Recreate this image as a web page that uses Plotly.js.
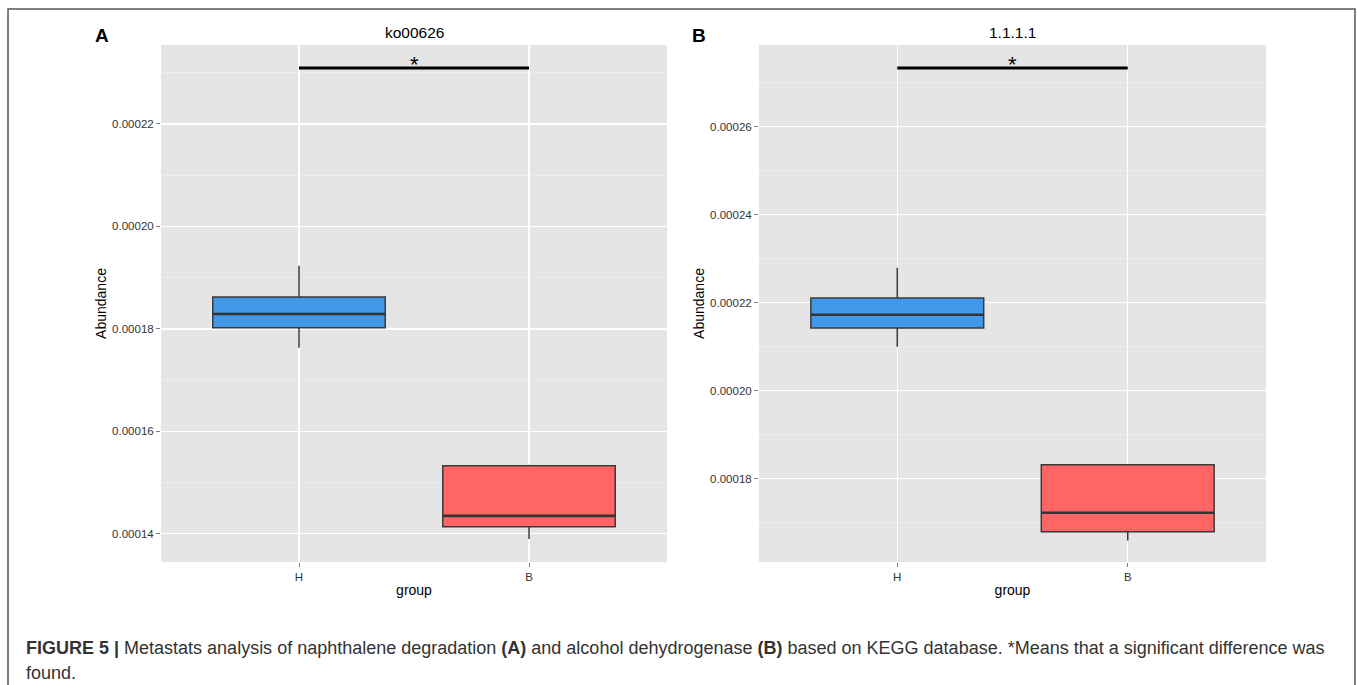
<!DOCTYPE html>
<html>
<head>
<meta charset="utf-8">
<script src="https://cdn.plot.ly/plotly-3.0.1.min.js"></script>
<style>
html,body{margin:0;padding:0;background:#fff;}
#chart{width:1358px;height:685px;}
</style>
</head>
<body>
<div id="chart"></div>
<script>
// ---- data ----
const groups = ['H', 'B'];
const groupColors = ['#4399E9', '#FF6565'];

// Panel A: ko00626
const koLower  = [0.0001763, 0.0001390];
const koQ1     = [0.0001802, 0.0001414];
const koMedian = [0.0001829, 0.0001435];
const koQ3     = [0.0001862, 0.0001533];
const koUpper  = [0.0001923, 0.0001535];
const koSig = 0.0002309;

// Panel B: 1.1.1.1
const ecLower  = [0.0002100, 0.0001660];
const ecQ1     = [0.0002143, 0.0001680];
const ecMedian = [0.0002173, 0.0001723];
const ecQ3     = [0.0002211, 0.0001832];
const ecUpper  = [0.0002280, 0.0001834];
const ecSig = 0.0002734;

const panelTitles = ['ko00626', '1.1.1.1'];
const panelLetters = ['A', 'B'];
const sigLabel = '*';
const caption1 = '<b>FIGURE 5 |</b> Metastats analysis of naphthalene degradation <b>(A)</b> and alcohol dehydrogenase <b>(B)</b> based on KEGG database. *Means that a significant difference was';
const caption2 = 'found.';

// ---- layout helpers ----
const W = 1358, H = 685;
const px = v => v / W;
const py = v => 1 - v / H;
const FONT = 'Liberation Sans, Arial, Helvetica, sans-serif';
const BOXW = 0.75;

function boxTraces(lower, q1, med, q3, upper, xa, ya) {
  return groups.map((g, i) => ({
    type: 'box',
    x: [g],
    lowerfence: [lower[i]],
    q1: [q1[i]],
    median: [med[i]],
    q3: [q3[i]],
    upperfence: [upper[i]],
    width: BOXW,
    whiskerwidth: 0,
    fillcolor: groupColors[i],
    line: {color: '#3A3A3A', width: 1.5},
    boxpoints: false,
    xaxis: xa, yaxis: ya,
    hoverinfo: 'skip',
    showlegend: false
  }));
}

function medianShapes(med, xa, ya) {
  return groups.map((g, i) => ({
    type: 'line', xref: xa, yref: ya,
    x0: i - BOXW / 2, x1: i + BOXW / 2, y0: med[i], y1: med[i],
    line: {color: '#333333', width: 2.6}, layer: 'above'
  }));
}

function sigTrace(val, xa, ya) {
  return {
    type: 'scatter', mode: 'lines',
    x: groups, y: [val, val],
    line: {color: '#000000', width: 3},
    xaxis: xa, yaxis: ya,
    hoverinfo: 'skip', showlegend: false
  };
}

const data = [
  ...boxTraces(koLower, koQ1, koMedian, koQ3, koUpper, 'x', 'y'),
  sigTrace(koSig, 'x', 'y'),
  ...boxTraces(ecLower, ecQ1, ecMedian, ecQ3, ecUpper, 'x2', 'y2'),
  sigTrace(ecSig, 'x2', 'y2')
];

function xAxis(domain, anchor) {
  return {
    domain: domain, anchor: anchor,
    type: 'category',
    categoryorder: 'array', categoryarray: groups,
    range: [-0.6, 1.6],
    showgrid: true, gridcolor: '#FFFFFF', gridwidth: 1.3,
    zeroline: false, showline: false,
    ticks: 'outside', ticklen: 4, tickcolor: '#7F7F7F', tickwidth: 1,
    tickfont: {family: FONT, size: 11.5, color: '#333333'},
    title: {text: 'group', font: {family: FONT, size: 14, color: '#000000'}, standoff: 3},
    fixedrange: true
  };
}
function yAxis(domain, anchor, range) {
  return {
    domain: domain, anchor: anchor,
    range: range,
    tick0: 0, dtick: 0.00002,
    tickformat: '.5f',
    showgrid: true, gridcolor: '#FFFFFF', gridwidth: 1.3,
    minor: {tick0: 0, dtick: 0.00001, showgrid: true, gridcolor: '#F2F2F2', gridwidth: 0.6, ticks: ''},
    zeroline: false, showline: false,
    ticks: 'outside', ticklen: 4, tickcolor: '#7F7F7F', tickwidth: 1,
    tickfont: {family: FONT, size: 11.5, color: '#333333'},
    title: {text: 'Abundance', font: {family: FONT, size: 14, color: '#000000'}, standoff: 2},
    fixedrange: true
  };
}

const yDom = [py(562), py(45)];

const layout = {
  width: W, height: H,
  margin: {l: 0, r: 0, t: 0, b: 0},
  paper_bgcolor: '#FFFFFF',
  plot_bgcolor: '#E5E5E5',
  boxmode: 'overlay',
  showlegend: false,
  font: {family: FONT},
  xaxis: xAxis([px(161), px(667)], 'y'),
  yaxis: yAxis(yDom, 'x', [0.0001345, 0.0002354]),
  xaxis2: xAxis([px(759), px(1266)], 'y2'),
  yaxis2: yAxis(yDom, 'x2', [0.0001611, 0.0002786]),
  shapes: [
    {type: 'rect', xref: 'paper', yref: 'paper',
     x0: px(8), x1: px(1355), y0: py(720), y1: py(9),
     line: {color: '#555555', width: 1.5}, fillcolor: 'rgba(0,0,0,0)', layer: 'above'},
    ...medianShapes(koMedian, 'x', 'y'),
    ...medianShapes(ecMedian, 'x2', 'y2')
  ],
  annotations: [
    {text: '<b>' + panelLetters[0] + '</b>', xref: 'paper', yref: 'paper', x: px(102), y: py(35), xanchor: 'center', yanchor: 'middle', showarrow: false, font: {family: FONT, size: 19, color: '#000'}},
    {text: '<b>' + panelLetters[1] + '</b>', xref: 'paper', yref: 'paper', x: px(699), y: py(35), xanchor: 'center', yanchor: 'middle', showarrow: false, font: {family: FONT, size: 19, color: '#000'}},
    {text: panelTitles[0], xref: 'paper', yref: 'paper', x: px(414), y: py(33), xanchor: 'center', yanchor: 'middle', showarrow: false, font: {family: FONT, size: 15.5, color: '#000'}},
    {text: panelTitles[1], xref: 'paper', yref: 'paper', x: px(1012), y: py(33), xanchor: 'center', yanchor: 'middle', showarrow: false, font: {family: FONT, size: 15.5, color: '#000'}},
    {text: sigLabel, xref: 'x', yref: 'y', x: 0.5, y: koSig, xanchor: 'center', yanchor: 'bottom', yshift: -11, showarrow: false, font: {family: FONT, size: 22, color: '#000'}},
    {text: sigLabel, xref: 'x2', yref: 'y2', x: 0.5, y: ecSig, xanchor: 'center', yanchor: 'bottom', yshift: -11, showarrow: false, font: {family: FONT, size: 22, color: '#000'}},
    {text: caption1, xref: 'paper', yref: 'paper', x: px(24), y: py(648), xanchor: 'left', yanchor: 'middle', showarrow: false, align: 'left', font: {family: FONT, size: 18, color: '#333333'}},
    {text: caption2, xref: 'paper', yref: 'paper', x: px(24), y: py(673), xanchor: 'left', yanchor: 'middle', showarrow: false, align: 'left', font: {family: FONT, size: 18, color: '#333333'}}
  ]
};

Plotly.newPlot('chart', data, layout, {displayModeBar: false, staticPlot: true});
</script>
</body>
</html>
